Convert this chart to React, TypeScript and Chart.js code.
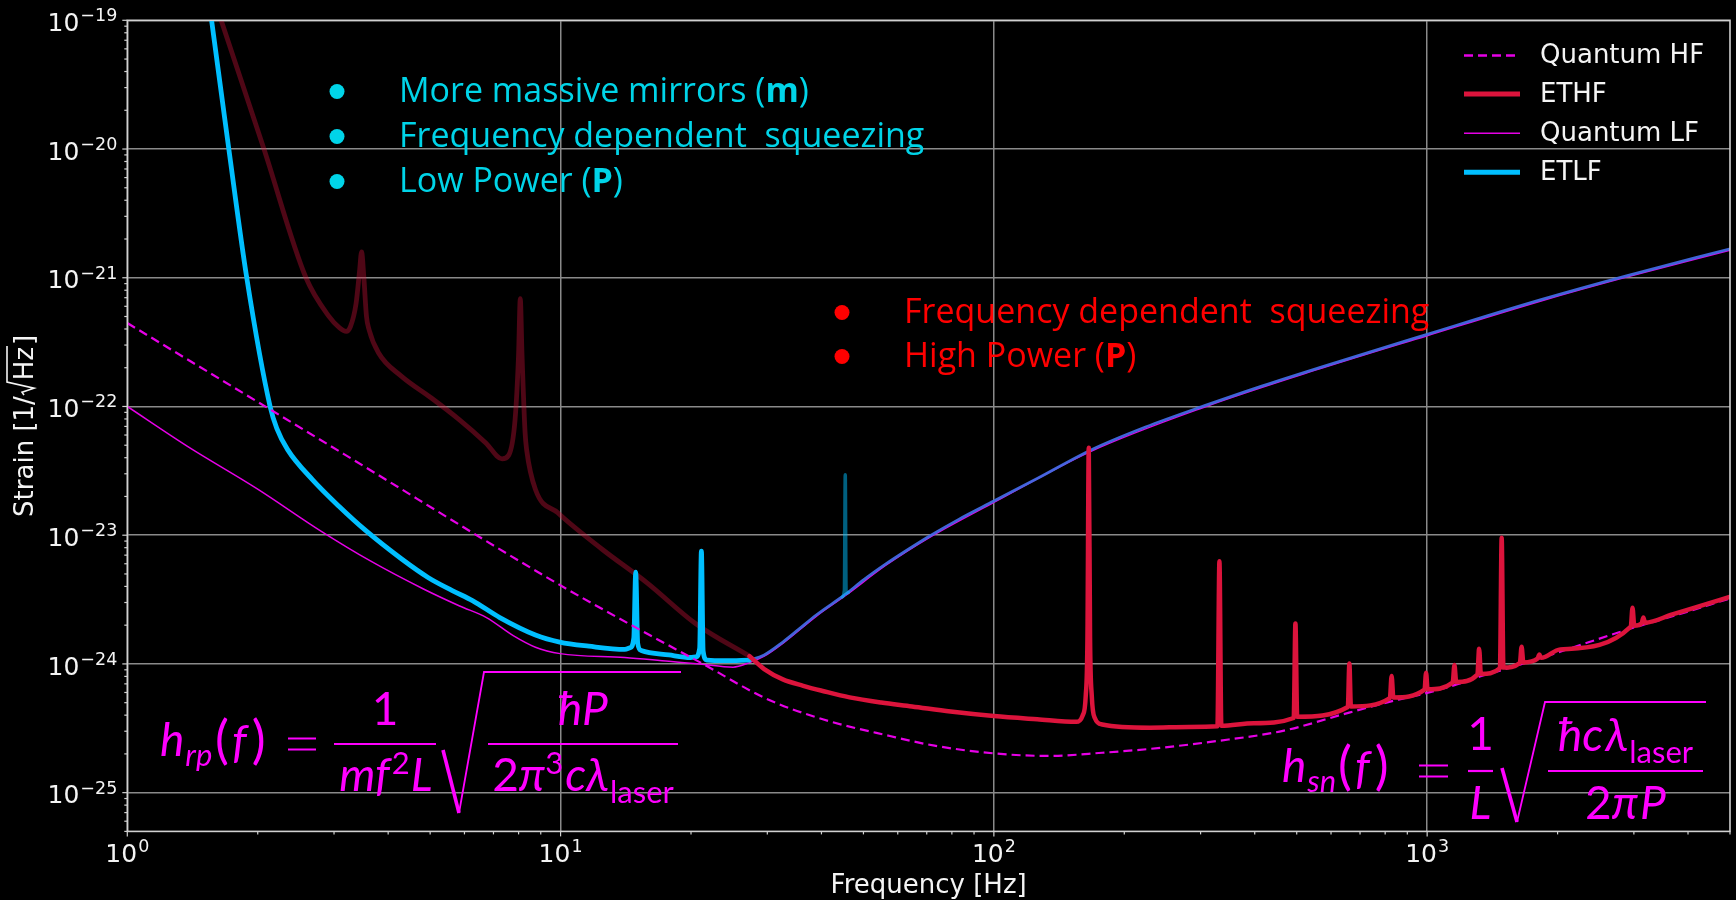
import React, { useEffect, useRef } from 'react';
import { Chart, registerables } from 'chart.js';

Chart.register(...registerables);

// ---------------- data (stored as log10) ----------------
const xTickExponents = [0, 1, 2, 3];
const xTickLabels = ['0', '1', '2', '3'];
const yTickExponents = [-25, -24, -23, -22, -21, -20, -19];
const yTickLabels = ['−25', '−24', '−23', '−22', '−21', '−20', '−19'];

const legendLabels = ['Quantum HF', 'ETHF', 'Quantum LF', 'ETLF'];

// ETLF, low-frequency (cyan) part
const etlfLogF = [0.180, 0.1945, 0.2343, 0.2757, 0.3296, 0.345, 0.370, 0.4272, 0.4884, 0.5506, 0.6332, 0.695, 0.75, 0.7975, 0.8597, 0.942, 0.998, 1.065, 1.148, 1.160, 1.169, 1.1734, 1.178, 1.186, 1.25, 1.30, 1.312, 1.321, 1.325, 1.329, 1.338, 1.38, 1.436];
const etlfLogH = [-18.64, -19.0, -20.0, -21.0, -22.0, -22.17, -22.335, -22.568, -22.775, -22.965, -23.185, -23.33, -23.43, -23.51, -23.64, -23.775, -23.83, -23.862, -23.887, -23.875, -23.80, -23.287, -23.84, -23.895, -23.93, -23.95, -23.945, -23.88, -23.124, -23.90, -23.97, -23.975, -23.97];

// ETLF, high-frequency (dimmed blue) part
const etlfHighLogF = [1.436, 1.47, 1.513, 1.55, 1.59, 1.657, 1.70, 1.75, 1.80, 1.85, 1.92, 2.0, 2.1, 2.223, 2.35, 2.49, 2.62, 2.75, 3.0, 3.263, 3.46, 3.70];
const etlfHighLogH = [-23.97, -23.93, -23.83, -23.73, -23.62, -23.46, -23.345, -23.225, -23.115, -23.01, -22.875, -22.735, -22.56, -22.34, -22.16, -21.99, -21.84, -21.70, -21.44, -21.17, -20.985, -20.775];

// ETLF dimmed line at ~45 Hz
const etlfSpikeLogF = [1.650, 1.655, 1.657, 1.659, 1.664];
const etlfSpikeLogH = [-23.48, -23.43, -22.53, -23.45, -23.445];

// ETHF, low-frequency (dimmed) part
const ethfLowLogF = [0.20, 0.2166, 0.3154, 0.4124, 0.4654, 0.490, 0.5052, 0.515, 0.528, 0.536, 0.5407, 0.546, 0.552, 0.558, 0.580, 0.633, 0.70, 0.766, 0.8275, 0.865, 0.880, 0.895, 0.903, 0.907, 0.911, 0.918, 0.9216, 0.942, 0.9936, 1.0966, 1.1996, 1.3128, 1.436];
const ethfLowLogH = [-18.83, -19.0, -20.0, -21.0, -21.30, -21.39, -21.417, -21.38, -21.2, -20.95, -20.80, -21.0, -21.3, -21.404, -21.585, -21.766, -21.93, -22.102, -22.283, -22.407, -22.38, -22.1, -21.6, -21.163, -21.6, -22.2, -22.335, -22.645, -22.826, -23.111, -23.37, -23.69, -23.94];

// ETHF, bright part
const ethfLogF = [1.436, 1.47, 1.513, 1.56, 1.605, 1.667, 1.74, 1.811, 1.9, 2.0, 2.1, 2.19, 2.205, 2.212, 2.216, 2.219, 2.222, 2.226, 2.233, 2.25, 2.36, 2.45, 2.516, 2.5206, 2.525, 2.6, 2.692, 2.696, 2.700, 2.817, 2.8205, 2.824, 2.914, 2.918, 2.922, 2.994, 2.9975, 3.001, 3.059, 3.063, 3.067, 3.116, 3.12, 3.124, 3.168, 3.172, 3.176, 3.214, 3.218, 3.222, 3.255, 3.259, 3.263, 3.307, 3.47, 3.474, 3.478, 3.495, 3.499, 3.503, 3.566, 3.678, 3.70];
const ethfLogH = [-23.94, -24.04, -24.12, -24.17, -24.21, -24.26, -24.30, -24.33, -24.37, -24.405, -24.43, -24.45, -24.40, -24.25, -23.8, -22.32, -23.8, -24.25, -24.42, -24.47, -24.495, -24.49, -24.485, -23.202, -24.48, -24.46, -24.42, -23.685, -24.41, -24.335, -23.996, -24.33, -24.265, -24.094, -24.26, -24.20, -24.068, -24.197, -24.145, -24.009, -24.14, -24.083, -23.882, -24.078, -24.033, -23.02, -24.028, -23.993, -23.866, -23.988, -23.958, -23.926, -23.953, -23.887, -23.71, -23.564, -23.703, -23.685, -23.64, -23.68, -23.615, -23.5, -23.478];

// Quantum HF (dashed)
const qhfLogF = [0, 0.5, 1.0, 1.175, 1.3287, 1.475, 1.605, 1.76, 1.863, 2.0, 2.128, 2.25, 2.36, 2.513, 2.667, 2.82, 2.936, 3.0, 3.063, 3.12, 3.2, 3.307, 3.47, 3.566, 3.70];
const qhfLogH = [-21.352, -22.37, -23.39, -23.72, -24.0, -24.27, -24.43, -24.56, -24.635, -24.695, -24.715, -24.69, -24.66, -24.60, -24.52, -24.378, -24.275, -24.225, -24.165, -24.10, -24.02, -23.905, -23.725, -23.63, -23.49];

// Quantum LF (thin solid)
const qlfLogF = [0, 0.1389, 0.30, 0.4478, 0.561, 0.6847, 0.767, 0.829, 0.8907, 0.942, 0.999, 1.148, 1.25, 1.321, 1.398, 1.436, 1.47, 1.513, 1.59, 1.657, 1.75, 1.85, 2.0, 2.223, 2.49, 2.75, 3.0, 3.263, 3.46, 3.70];
const qlfLogH = [-22.0, -22.31, -22.64, -22.97, -23.2, -23.42, -23.55, -23.64, -23.78, -23.87, -23.92, -23.95, -23.98, -24.0, -24.025, -23.99, -23.94, -23.84, -23.63, -23.47, -23.235, -23.02, -22.745, -22.35, -22.0, -21.71, -21.45, -21.18, -20.995, -20.785];

// ---------------- styling ----------------
const TEXT = '#f4f4f4';
const FRAME = '#d0d0d0';
const CYAN_NOTE = '#00D4E8';
const RED_NOTE = '#FF0000';
const MAGENTA = '#FF00FF';
const QCOLOR = '#E600E6';
const AX_FONT = '"DejaVu Sans", sans-serif';
const NOTE_FONT = '"Open Sans", "Noto Sans", sans-serif';
const MATH_FONT = 'Lato, "DejaVu Sans", sans-serif';

type Run = { t: string; it?: boolean; b?: boolean; s?: number; dy?: number; gap?: number };

const cyanNotes: Run[][] = [
  [{ t: 'More massive mirrors (' }, { t: 'm', b: true }, { t: ')' }],
  [{ t: 'Frequency dependent  squeezing' }],
  [{ t: 'Low Power (' }, { t: 'P', b: true }, { t: ')' }],
];
const redNotes: Run[][] = [
  [{ t: 'Frequency dependent  squeezing' }],
  [{ t: 'High Power (' }, { t: 'P', b: true }, { t: ')' }],
];

const pts = (lf: number[], lh: number[]) => lf.map((v, i) => ({ x: Math.pow(10, v), y: Math.pow(10, lh[i]) }));

function setFont(ctx: CanvasRenderingContext2D, fam: string, size: number, it?: boolean, b?: boolean) {
  ctx.font = `${it ? 'italic ' : ''}${b ? 'bold ' : ''}${size}px ${fam}`;
}
function measureRuns(ctx: CanvasRenderingContext2D, runs: Run[], fam: string, size: number) {
  let w = 0;
  for (const r of runs) {
    setFont(ctx, fam, r.s ?? size, r.it, r.b);
    w += (r.gap ?? 0) + ctx.measureText(r.t).width;
  }
  return w;
}
function drawRuns(ctx: CanvasRenderingContext2D, runs: Run[], fam: string, size: number, x: number, y: number) {
  let cx = x;
  for (const r of runs) {
    setFont(ctx, fam, r.s ?? size, r.it, r.b);
    cx += r.gap ?? 0;
    ctx.fillText(r.t, cx, y + (r.dy ?? 0));
    cx += ctx.measureText(r.t).width;
  }
  return cx;
}
function drawCentered(ctx: CanvasRenderingContext2D, runs: Run[], fam: string, size: number, cx: number, y: number) {
  const w = measureRuns(ctx, runs, fam, size);
  drawRuns(ctx, runs, fam, size, cx - w / 2, y);
}
function drawPow(ctx: CanvasRenderingContext2D, exp: string, x: number, y: number, align: 'right' | 'center') {
  setFont(ctx, AX_FONT, 25);
  const wb = ctx.measureText('10').width;
  setFont(ctx, AX_FONT, 17.5);
  const we = ctx.measureText(exp).width;
  const total = wb + we + 1;
  const sx = align === 'right' ? x - total : x - total / 2;
  setFont(ctx, AX_FONT, 25);
  ctx.fillText('10', sx, y);
  setFont(ctx, AX_FONT, 17.5);
  ctx.fillText(exp, sx + wb + 1, y - 9.8);
}
function line(ctx: CanvasRenderingContext2D, x1: number, y1: number, x2: number, y2: number) {
  ctx.beginPath();
  ctx.moveTo(x1, y1);
  ctx.lineTo(x2, y2);
  ctx.stroke();
}
function radical(ctx: CanvasRenderingContext2D, p: number[][]) {
  ctx.lineCap = 'butt';
  ctx.lineJoin = 'miter';
  ctx.lineWidth = 3.6;
  line(ctx, p[0][0], p[0][1], p[1][0], p[1][1]);
  ctx.lineWidth = 1.8;
  ctx.beginPath();
  ctx.moveTo(p[1][0], p[1][1]);
  ctx.lineTo(p[2][0], p[2][1]);
  ctx.lineTo(p[3][0], p[3][1]);
  ctx.stroke();
}
function equals(ctx: CanvasRenderingContext2D, x1: number, x2: number, yc: number) {
  ctx.lineWidth = 2;
  line(ctx, x1, yc - 5.5, x2, yc - 5.5);
  line(ctx, x1, yc + 5.5, x2, yc + 5.5);
}

const decorPlugin = {
  id: 'decor',
  beforeDraw(chart: any) {
    const { ctx, width, height } = chart;
    ctx.save();
    ctx.fillStyle = '#000';
    ctx.fillRect(0, 0, width, height);
    ctx.restore();
  },
  afterDatasetsDraw(chart: any) {
    const { ctx, chartArea: a } = chart;
    const xs = chart.scales.x;
    const ys = chart.scales.y;
    ctx.save();
    ctx.textAlign = 'left';
    ctx.textBaseline = 'alphabetic';

    // frame
    ctx.strokeStyle = FRAME;
    ctx.lineWidth = 1.6;
    ctx.strokeRect(a.left, a.top, a.right - a.left, a.bottom - a.top);

    // ticks
    ctx.lineWidth = 1.2;
    for (let e = 0; e <= 3; e++) {
      for (let m = 1; m < 10; m++) {
        const v = m * Math.pow(10, e);
        if (v > xs.max) break;
        const px = xs.getPixelForValue(v);
        line(ctx, px, a.bottom, px, a.bottom + (m === 1 ? 5 : 3));
      }
    }
    for (let e = -26; e <= -19; e++) {
      for (let m = 1; m < 10; m++) {
        const v = m * Math.pow(10, e);
        if (v < ys.min * 0.999 || v > ys.max * 1.001) continue;
        const py = ys.getPixelForValue(v);
        line(ctx, a.left - (m === 1 ? 5 : 3), py, a.left, py);
      }
    }

    // tick labels
    ctx.fillStyle = TEXT;
    xTickExponents.forEach((e, i) => {
      const px = xs.getPixelForValue(Math.pow(10, e));
      drawPow(ctx, xTickLabels[i], px, a.bottom + 30.6, 'center');
    });
    yTickExponents.forEach((e, i) => {
      const py = ys.getPixelForValue(Math.pow(10, e));
      drawPow(ctx, yTickLabels[i], a.left - 10, py + 10.7, 'right');
    });

    // axis titles
    setFont(ctx, AX_FONT, 26);
    const xt = 'Frequency [Hz]';
    ctx.fillText(xt, (a.left + a.right) / 2 - ctx.measureText(xt).width / 2, 893);

    ctx.save();
    ctx.translate(33, (a.top + a.bottom) / 2);
    ctx.rotate(-Math.PI / 2);
    setFont(ctx, AX_FONT, 26);
    const p1 = 'Strain [1/', p2 = 'Hz', p3 = ']';
    const w1 = ctx.measureText(p1).width, w2 = ctx.measureText(p2).width, w3 = ctx.measureText(p3).width;
    const rw = 16;
    const x0 = -(w1 + rw + w2 + w3 + 2) / 2;
    ctx.fillText(p1, x0, 0);
    const rx = x0 + w1;
    ctx.strokeStyle = TEXT;
    ctx.lineWidth = 1.6;
    ctx.beginPath();
    ctx.moveTo(rx + 1, -9);
    ctx.lineTo(rx + 4, -11);
    ctx.lineTo(rx + 8, 1);
    ctx.lineTo(rx + 14, -26);
    ctx.lineTo(rx + rw + w2 + 1, -26);
    ctx.stroke();
    ctx.fillText(p2, rx + rw, 0);
    ctx.fillText(p3, rx + rw + w2 + 2, 0);
    ctx.restore();

    // legend
    const ly = [55.5, 94, 133.3, 172.3];
    legendLabels.forEach((lab, i) => {
      const ds = chart.data.datasets.find((d: any) => d.label === lab);
      ctx.strokeStyle = ds.borderColor;
      ctx.lineWidth = lab.startsWith('Quantum') ? (lab === 'Quantum HF' ? 2.4 : 1.6) : 5;
      ctx.setLineDash(ds.borderDash || []);
      ctx.lineCap = 'butt';
      line(ctx, 1464, ly[i], 1520, ly[i]);
      ctx.setLineDash([]);
      ctx.fillStyle = TEXT;
      setFont(ctx, AX_FONT, 26);
      ctx.textBaseline = 'middle';
      ctx.fillText(lab, 1540, ly[i] + 1);
      ctx.textBaseline = 'alphabetic';
    });

    // bullet notes
    const notes = (list: Run[][], color: string, bx: number, tx: number, baselines: number[]) => {
      ctx.fillStyle = color;
      list.forEach((runs, i) => {
        ctx.beginPath();
        ctx.arc(bx, baselines[i] - 10.5, 7.5, 0, Math.PI * 2);
        ctx.fill();
        drawRuns(ctx, runs, NOTE_FONT, 34, tx, baselines[i]);
      });
    };
    notes(cyanNotes, CYAN_NOTE, 337, 399, [102, 147, 192]);
    notes(redNotes, RED_NOTE, 842, 904, [323, 367]);

    // formulas
    ctx.fillStyle = MAGENTA;
    ctx.strokeStyle = MAGENTA;
    const M = 46, S = 31, P = 52;
    // left: radiation pressure
    drawRuns(ctx, [{ t: 'h', it: true }, { t: 'rp', it: true, s: S, dy: 10, gap: 1 }], MATH_FONT, M, 160, 756);
    drawRuns(ctx, [{ t: '(', s: P }, { t: 'f', it: true, gap: 3 }, { t: ')', s: P, gap: 5 }], MATH_FONT, M, 215, 758);
    equals(ctx, 288, 316, 744);
    ctx.lineWidth = 2.2;
    line(ctx, 334, 744, 436, 744);
    drawCentered(ctx, [{ t: '1' }], MATH_FONT, M, 385, 725);
    drawCentered(ctx, [{ t: 'mf', it: true }, { t: '2', s: S, dy: -17, gap: 2 }, { t: 'L', it: true, gap: 1 }], MATH_FONT, M, 386, 791);
    radical(ctx, [[443, 750], [459, 813], [484, 672], [681, 672]]);
    ctx.lineWidth = 2.2;
    line(ctx, 488, 744, 678, 744);
    drawCentered(ctx, [{ t: 'ħP', it: true }], MATH_FONT, M, 583, 725);
    drawCentered(ctx, [{ t: '2' }, { t: 'π', it: true }, { t: '3', s: S, dy: -17 }, { t: 'c', it: true, gap: 2 }, { t: 'λ', it: true }, { t: 'laser', s: S, dy: 12, gap: 1 }], MATH_FONT, M, 583, 791);

    // right: shot noise
    drawRuns(ctx, [{ t: 'h', it: true }, { t: 'sn', it: true, s: S, dy: 10, gap: 1 }], MATH_FONT, M, 1282, 782);
    drawRuns(ctx, [{ t: '(', s: P }, { t: 'f', it: true, gap: 3 }, { t: ')', s: P, gap: 5 }], MATH_FONT, M, 1338, 784);
    equals(ctx, 1419, 1448, 771);
    ctx.lineWidth = 2.2;
    line(ctx, 1468, 771, 1493, 771);
    drawCentered(ctx, [{ t: '1' }], MATH_FONT, M, 1480.5, 750);
    drawCentered(ctx, [{ t: 'L', it: true }], MATH_FONT, M, 1480.5, 819);
    radical(ctx, [[1502, 768], [1517, 822], [1545, 702], [1706, 702]]);
    ctx.lineWidth = 2.2;
    line(ctx, 1548, 771, 1703, 771);
    drawCentered(ctx, [{ t: 'ħc', it: true }, { t: 'λ', it: true, gap: 2 }, { t: 'laser', s: S, dy: 12, gap: 1 }], MATH_FONT, M, 1625.5, 751);
    drawCentered(ctx, [{ t: '2' }, { t: 'π', it: true }, { t: 'P', it: true, gap: 2 }], MATH_FONT, M, 1625.5, 819);

    ctx.restore();
  },
};

const lineDefaults = {
  pointRadius: 0,
  pointHoverRadius: 0,
  fill: false,
  cubicInterpolationMode: 'monotone' as const,
  borderJoinStyle: 'round' as const,
  borderCapStyle: 'round' as const,
  clip: 0,
};

export default function App() {
  const ref = useRef<HTMLCanvasElement>(null);
  useEffect(() => {
    document.body.style.margin = '0';
    document.body.style.background = '#000';
    const chart = new Chart(ref.current as HTMLCanvasElement, {
      type: 'line',
      data: {
        datasets: [
          { ...lineDefaults, label: 'ETHF', data: pts(ethfLogF, ethfLogH), borderColor: '#DC143C', borderWidth: 4.5, order: 1 },
          { ...lineDefaults, label: 'Quantum HF', data: pts(qhfLogF, qhfLogH), borderColor: QCOLOR, borderWidth: 2.2, borderDash: [9, 5], borderCapStyle: 'butt', order: 2 },
          { ...lineDefaults, label: 'ETLF', data: pts(etlfLogF, etlfLogH), borderColor: '#00BFFF', borderWidth: 4.8, order: 3 },
          { ...lineDefaults, label: 'ETLF 45 Hz line', data: pts(etlfSpikeLogF, etlfSpikeLogH), borderColor: 'rgba(0,191,255,0.5)', borderWidth: 3.5, order: 4 },
          { ...lineDefaults, label: 'ETLF high f', data: pts(etlfHighLogF, etlfHighLogH), borderColor: 'rgba(65,105,225,0.95)', borderWidth: 2.8, order: 5 },
          { ...lineDefaults, label: 'Quantum LF', data: pts(qlfLogF, qlfLogH), borderColor: QCOLOR, borderWidth: 1.5, order: 6 },
          { ...lineDefaults, label: 'ETHF low f', data: pts(ethfLowLogF, ethfLowLogH), borderColor: 'rgba(220,20,60,0.36)', borderWidth: 4.8, order: 7 },
        ],
      },
      options: {
        responsive: false,
        animation: false,
        devicePixelRatio: 1,
        events: [],
        layout: { padding: { top: 20.3, right: 6, left: 0, bottom: 0 } },
        plugins: { legend: { display: false }, tooltip: { enabled: false } },
        scales: {
          x: {
            type: 'logarithmic',
            min: 1,
            max: 5000,
            afterBuildTicks: (s: any) => { s.ticks = xTickExponents.map((e) => ({ value: Math.pow(10, e) })); },
            afterFit: (s: any) => { s.height = 68.6; },
            ticks: { display: false },
            grid: { color: '#8a8a8a', lineWidth: 1.5, drawTicks: false },
            border: { display: false },
          },
          y: {
            type: 'logarithmic',
            min: 5.06e-26,
            max: 1e-19,
            afterBuildTicks: (s: any) => { s.ticks = yTickExponents.map((e) => ({ value: Math.pow(10, e) })); },
            afterFit: (s: any) => { s.width = 127.3; },
            ticks: { display: false },
            grid: { color: '#8a8a8a', lineWidth: 1.5, drawTicks: false },
            border: { display: false },
          },
        },
      } as any,
      plugins: [decorPlugin],
    });
    const fontsToLoad = ['25px "DejaVu Sans"', '34px "Open Sans"', 'bold 34px "Open Sans"', '46px Lato', 'italic 46px Lato'];
    if ((document as any).fonts) {
      Promise.all(fontsToLoad.map((f) => (document as any).fonts.load(f))).then(() => chart.draw()).catch(() => {});
    }
    return () => chart.destroy();
  }, []);
  return (
    <div style={{ width: 1736, height: 900, background: '#000' }}>
      <canvas ref={ref} width={1736} height={900} style={{ display: 'block', width: 1736, height: 900 }} />
    </div>
  );
}
